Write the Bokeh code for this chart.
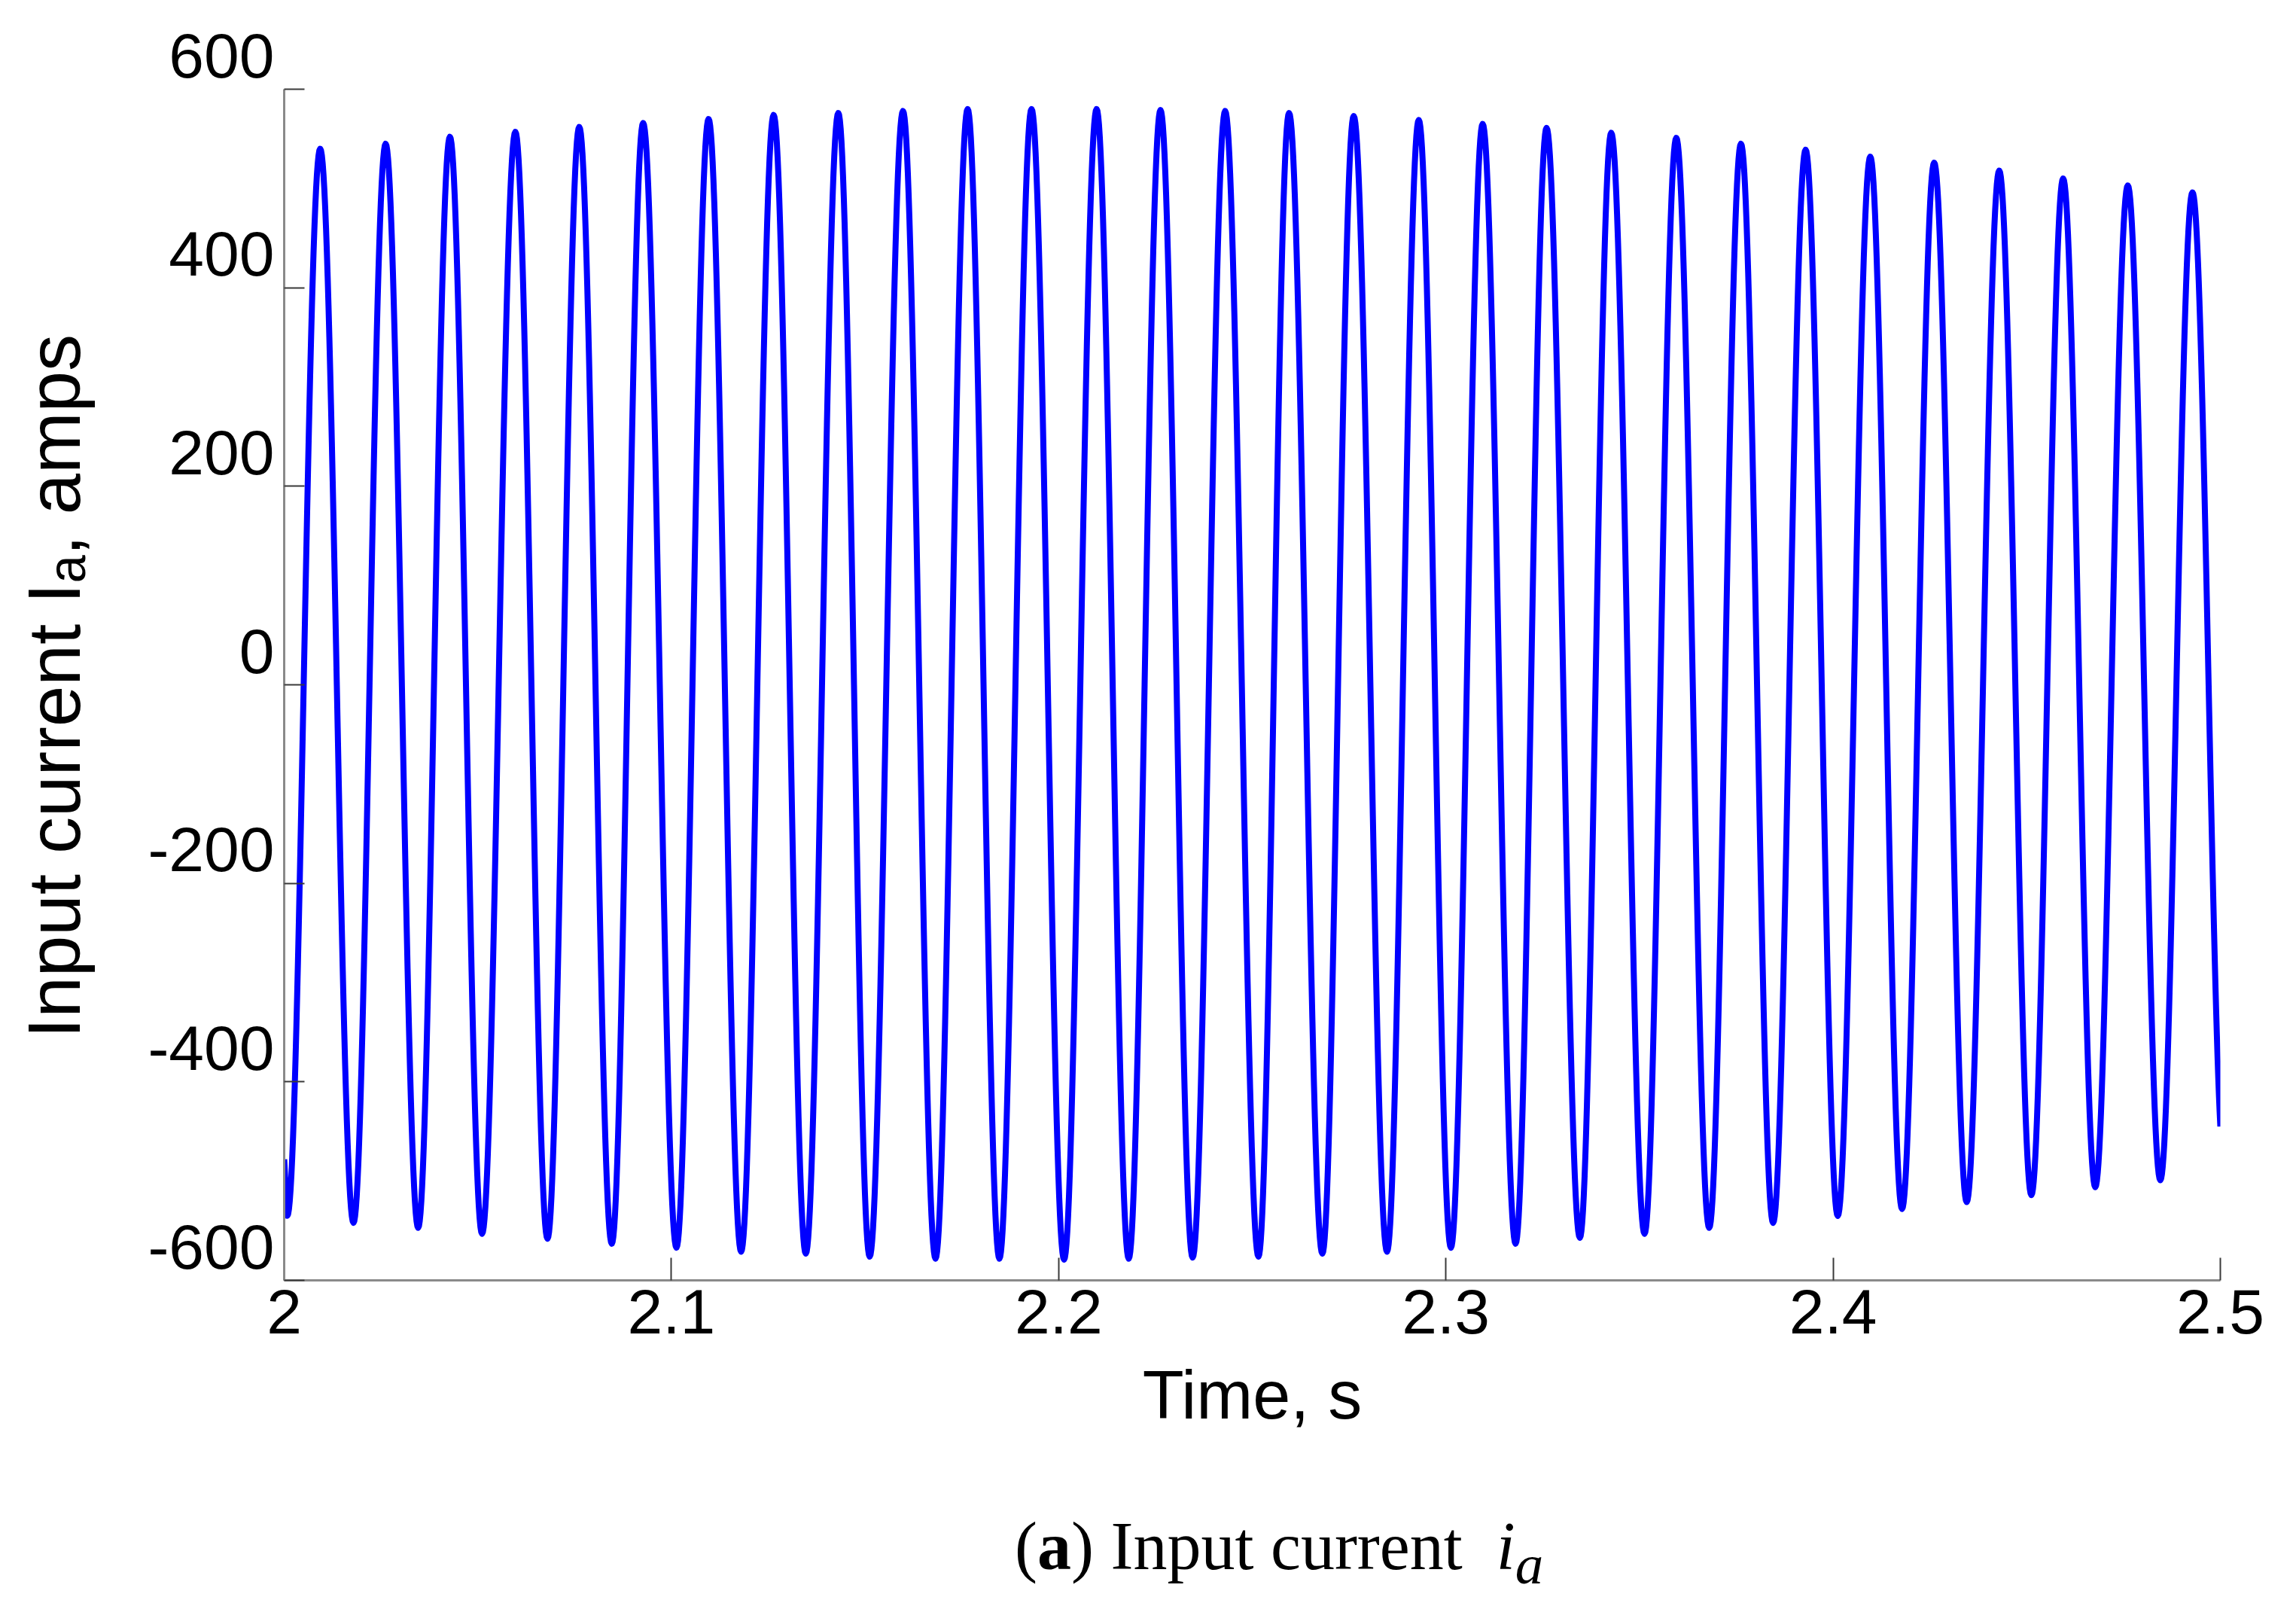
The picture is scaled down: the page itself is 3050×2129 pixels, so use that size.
import numpy as np
from bokeh.plotting import figure
from bokeh.models import FixedTicker, Range1d, LinearAxis, Div
from bokeh.layouts import column
from bokeh.embed import file_html
from bokeh.resources import INLINE

# ---------------- data ----------------
start_time = 2.0
start_value = -478.0
end_time = 2.5
end_value = -445.0

trough_times = [2.0008, 2.0179, 2.0346, 2.0511, 2.0680, 2.0846, 2.1013, 2.1180,
                2.1347, 2.1512, 2.1682, 2.1847, 2.2014, 2.2181, 2.2346, 2.2516,
                2.2681, 2.2848, 2.3013, 2.3180, 2.3346, 2.3513, 2.3680, 2.3845,
                2.4012, 2.4178, 2.4345, 2.4512, 2.4677, 2.4845]
trough_values = [-535, -542, -547, -553, -558, -563, -567, -571, -573, -576,
                 -578, -578, -579, -578, -577, -576, -573, -571, -567, -563,
                 -557, -553, -547, -542, -535, -528, -521, -514, -506, -499]

peak_times = [2.0093, 2.0262, 2.0428, 2.0597, 2.0762, 2.0927, 2.1096, 2.1264,
              2.1431, 2.1598, 2.1765, 2.1930, 2.2098, 2.2263, 2.2430, 2.2595,
              2.2762, 2.2930, 2.3095, 2.3260, 2.3427, 2.3595, 2.3762, 2.3929,
              2.4096, 2.4261, 2.4429, 2.4594, 2.4761, 2.4928]
peak_values = [540, 545, 552, 557, 562, 566, 570, 574, 576, 578,
               580, 580, 580, 579, 578, 576, 573, 569, 565, 561,
               556, 551, 545, 539, 532, 526, 518, 510, 503, 496]

x_ticks = [2.0, 2.1, 2.2, 2.3, 2.4, 2.5]
x_tick_labels = ["2", "2.1", "2.2", "2.3", "2.4", "2.5"]
y_ticks = [-600, -400, -200, 0, 200, 400, 600]
y_tick_labels = ["-600", "-400", "-200", "0", "200", "400", "600"]

x_label = "Time, s"
y_label = "Input current I\u2090, amps"
caption_html = "(<b>a</b>) Input current&nbsp;&nbsp;<i>i<sub>a</sub></i>"

# ---------------- smooth waveform through the read extremes ----------------
ext_t, ext_v = [], []
for tt, tv, pt, pv in zip(trough_times, trough_values, peak_times, peak_values):
    ext_t += [tt, pt]
    ext_v += [tv, pv]

xs = [start_time, ext_t[0]]
ys = [start_value, ext_v[0]]
s = np.linspace(0.0, 1.0, 41)[1:]
for i in range(len(ext_t) - 1):
    ta, tb, va, vb = ext_t[i], ext_t[i + 1], ext_v[i], ext_v[i + 1]
    xs += list(ta + (tb - ta) * s)
    ys += list((va + vb) / 2 + (va - vb) / 2 * np.cos(np.pi * s))
h = ext_t[-1] - ext_t[-2]
phi_end = np.pi * (end_time - ext_t[-1]) / h
amp = (ext_v[-1] - end_value) / (1 - np.cos(phi_end))
off = ext_v[-1] - amp
tt = np.linspace(ext_t[-1], end_time, 41)[1:]
xs += list(tt)
ys += list(off + amp * np.cos(np.pi * (tt - ext_t[-1]) / h))

# ---------------- figure ----------------
W = 3034
BL, BR = 377, 85
AXIS_PX = 1582              # pixel length of the -600..600 axis
LABEL_LIFT = 45             # tick labels sit this many px above their ticks
PX_PER_UNIT = AXIS_PX / 1200.0
lift = LABEL_LIFT / PX_PER_UNIT
BT = 118 - LABEL_LIFT
FRAME_H = AXIS_PX + LABEL_LIFT
BB = 262
H = BT + FRAME_H + BB

y_lo, y_hi = y_ticks[0], y_ticks[-1]
p = figure(width=W, height=H, output_backend="svg", toolbar_location=None,
           x_range=Range1d(2.0, 2.5), y_range=Range1d(y_lo, y_hi + lift),
           min_border_left=BL, min_border_right=BR, min_border_top=BT, min_border_bottom=BB)
p.outline_line_color = None
p.xgrid.visible = False
p.ygrid.visible = False
p.background_fill_color = "white"
p.border_fill_color = "white"

p.line(xs, ys, line_color="#0000FF", line_width=8, line_join="round")

FONT = "Liberation Sans"
AXIS_GRAY = "#8a8a8a"
TICK_COLOR = "#3a3a3a"

# x axis
xa = p.xaxis[0]
xa.ticker = FixedTicker(ticks=x_ticks)
xa.major_label_overrides = dict(zip(x_ticks, x_tick_labels))
xa.axis_line_color = AXIS_GRAY
xa.axis_line_width = 3
xa.major_tick_line_color = TICK_COLOR
xa.major_tick_line_width = 2
xa.major_tick_in = 30
xa.major_tick_out = 0
xa.minor_tick_line_color = None
xa.major_label_standoff = 12
xa.major_label_text_font = FONT
xa.major_label_text_font_size = "84px"
xa.major_label_text_color = "black"
xa.axis_label = x_label
xa.axis_label_text_font = FONT
xa.axis_label_text_font_size = "90px"
xa.axis_label_text_font_style = "normal"
xa.axis_label_text_color = "black"
xa.axis_label_standoff = 29

# y axis: line (limited to -600..600) + inward ticks
ya = p.yaxis[0]
ya.bounds = (y_lo, y_hi)
ya.ticker = FixedTicker(ticks=y_ticks)
ya.major_label_overrides = {v: "" for v in y_ticks}
ya.major_label_text_font_size = "1px"
ya.major_label_standoff = 0
ya.axis_line_color = AXIS_GRAY
ya.axis_line_width = 3
ya.major_tick_line_color = TICK_COLOR
ya.major_tick_line_width = 2
ya.major_tick_in = 27
ya.major_tick_out = 0
ya.minor_tick_line_color = None

# tick labels on a second axis whose range is shifted so each label sits above its tick
p.extra_y_ranges = {"labels": Range1d(y_lo - lift, y_hi)}
yl = LinearAxis(y_range_name="labels")
yl.ticker = FixedTicker(ticks=y_ticks)
yl.major_label_overrides = dict(zip(y_ticks, y_tick_labels))
yl.axis_line_color = None
yl.major_tick_line_color = None
yl.minor_tick_line_color = None
yl.major_tick_in = 0
yl.major_tick_out = 0
yl.major_label_standoff = 13
yl.major_label_text_font = FONT
yl.major_label_text_font_size = "84px"
yl.major_label_text_color = "black"
p.add_layout(yl, "left")

# axis title; an en space at its end re-centres it on the -600..600 span
# (the frame reaches a little above 600 to make room for the lifted "600" label)
yt = LinearAxis(bounds=(y_lo, y_hi))
yt.ticker = FixedTicker(ticks=[])
yt.axis_line_color = None
yt.major_tick_line_color = None
yt.minor_tick_line_color = None
yt.major_tick_in = 0
yt.major_tick_out = 0
yt.major_label_standoff = 0
yt.axis_label = y_label + "\u2002"
yt.axis_label_text_font = FONT
yt.axis_label_text_font_size = "98px"
yt.axis_label_text_font_style = "normal"
yt.axis_label_text_color = "black"
yt.axis_label_standoff = 67
p.add_layout(yt, "left")

caption = Div(
    text=('<div style="padding-left:1343px; padding-top:42px; '
          'font-family:\'Liberation Serif\', serif; font-size:90px; line-height:1; '
          'color:black; white-space:nowrap;">' + caption_html + '</div>'),
    width=W, height=2113 - H)

layout = column(p, caption, spacing=0)
open("out.html", "w").write(file_html(layout, INLINE))
